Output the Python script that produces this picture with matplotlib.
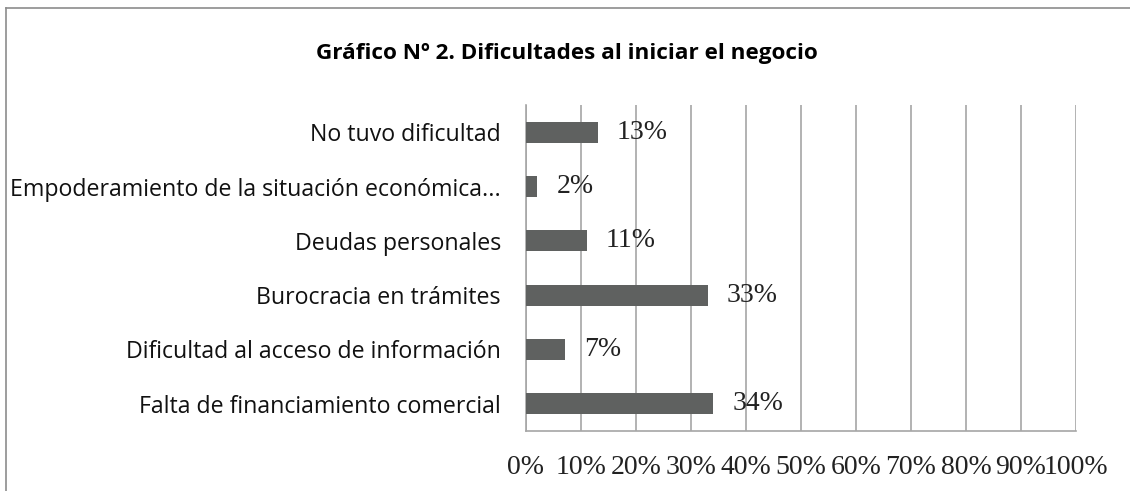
import matplotlib.pyplot as plt
from matplotlib.lines import Line2D

categories = [
    "Falta de financiamiento comercial",
    "Dificultad al acceso de información",
    "Burocracia en trámites",
    "Deudas personales",
    "Empoderamiento de la situación económica...",
    "No tuvo dificultad",
]
values = [34, 7, 33, 11, 2, 13]
ticks = [0, 10, 20, 30, 40, 50, 60, 70, 80, 90, 100]
tick_labels = [f"{t}%" for t in ticks]

BAR = "#5f6160"
GRID = "#a6a6a6"
SANS = "Open Sans"
SERIF = "Liberation Serif"

fig = plt.figure(figsize=(11.3, 4.91), dpi=100)
ax = fig.add_axes([526 / 1130, 1 - 431 / 491, 550 / 1130, 326 / 491])

y = range(len(categories))
bars = ax.barh(y, values, height=0.39, color=BAR, zorder=3)

ax.set_xlim(0, 100)
ax.set_ylim(-0.5, len(categories) - 0.5)
ax.set_xticks(ticks)
ax.set_xticklabels(tick_labels, family=SERIF, fontsize=20, color="#222222")
ax.set_yticks(list(y))
ax.set_yticklabels(categories, family=SANS, fontsize=16.7, color="#111111")
ax.tick_params(axis="both", length=0)
ax.tick_params(axis="x", pad=17)
ax.tick_params(axis="y", pad=18)

ax.grid(axis="x", color=GRID, linewidth=1.2, zorder=0)
for s in ["top", "right"]:
    ax.spines[s].set_visible(False)
for s in ["left", "bottom"]:
    ax.spines[s].set_color(GRID)
    ax.spines[s].set_linewidth(1.2)

for b, v in zip(bars, values):
    ax.annotate(f"{v}%", (b.get_width(), b.get_y() + b.get_height() / 2),
                xytext=(14, 0), textcoords="offset points", va="center",
                family=SERIF, fontsize=20, color="#222222", zorder=4)

fig.text(567 / 1130, 1 - 53 / 491, "Gráfico Nº 2. Dificultades al iniciar el negocio",
         family=SANS, fontweight="bold", fontsize=16.2, ha="center", va="center")

# chart border (only top and left edges visible in the crop)
fig.add_artist(Line2D([6 / 1130, 1], [1 - 8 / 491, 1 - 8 / 491], color="#8c8c8c", lw=1.2,
                      transform=fig.transFigure))
fig.add_artist(Line2D([6 / 1130, 6 / 1130], [0, 1 - 8 / 491], color="#8c8c8c", lw=1.2,
                      transform=fig.transFigure))

fig.savefig("out.png", dpi=100)
